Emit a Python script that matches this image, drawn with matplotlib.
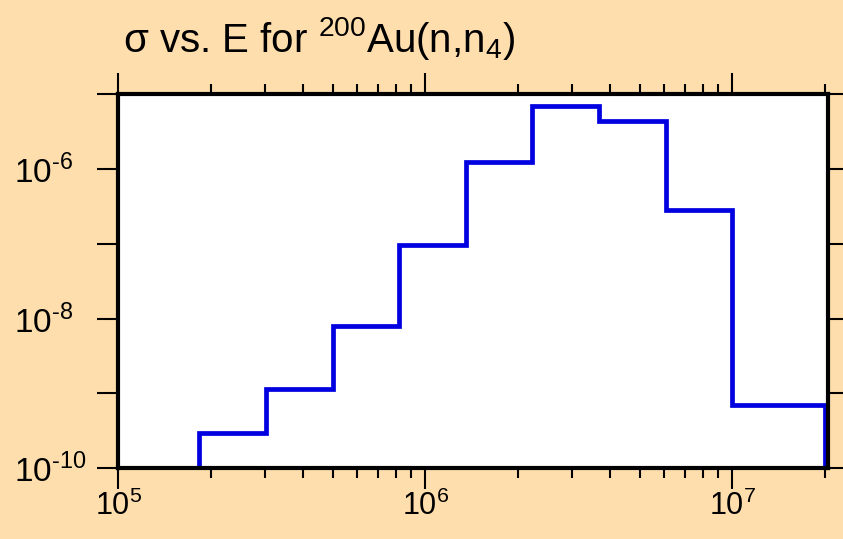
import matplotlib
matplotlib.use("Agg")
import matplotlib.pyplot as plt
from matplotlib import font_manager as fm
from matplotlib.ticker import FixedLocator, FuncFormatter, LogLocator, NullFormatter
import numpy as np

# ---- data ----
energy_edges = [1.83e5, 3.02e5, 4.98e5, 8.21e5, 1.353e6, 2.231e6, 3.679e6, 6.065e6, 1.0e7, 2.0e7]
sigma_values = [2.93e-10, 1.135e-9, 8.04e-9, 9.6e-8, 1.25e-6, 6.9e-6, 4.35e-6, 2.82e-7, 7.0e-10]
y_ticks = [1e-10, 1e-9, 1e-8, 1e-7, 1e-6, 1e-5]
y_labeled_exps = [-10, -8, -6]
x_ticks = [1e5, 1e6, 1e7]
title_text = "σ vs. E for $\\mathregular{^{200}}$Au(n,n$\\mathregular{_4}$)"

names = {f.name for f in fm.fontManager.ttflist}
narrow = 'Liberation Sans Narrow' if 'Liberation Sans Narrow' in names else None

plt.rcParams['font.family'] = ['Liberation Sans', 'DejaVu Sans']
plt.rcParams['mathtext.fontset'] = 'custom'
plt.rcParams['mathtext.rm'] = 'Liberation Sans'

BG = '#FFDEAD'
fig = plt.figure(figsize=(8.43, 5.39), dpi=100, facecolor=BG)
ax = fig.add_axes([118.5/843, 1-468.3/539, 709.7/843, 374.3/539])
ax.set_facecolor('white')

ax.stairs(sigma_values, energy_edges, baseline=1e-10, color='#0000E0', linewidth=3.4)

ax.set_xscale('log')
ax.set_yscale('log')
ax.set_xlim(1e5, 2.05e7)
ax.set_ylim(1e-10, 1e-5)

for s in ax.spines.values():
    s.set_linewidth(3.0)
    s.set_color('black')

ax.xaxis.set_major_locator(FixedLocator(x_ticks))
ax.xaxis.set_minor_locator(LogLocator(base=10, subs=np.arange(2, 10)))
ax.xaxis.set_minor_formatter(NullFormatter())
ax.xaxis.set_major_formatter(FuncFormatter(lambda v, p: r'$\mathregular{10^{%d}}$' % int(round(np.log10(v)))))

ax.yaxis.set_major_locator(FixedLocator(y_ticks))
ax.yaxis.set_minor_locator(FixedLocator([]))

def yfmt(v, p):
    e = int(round(np.log10(v)))
    if e in y_labeled_exps:
        if e < 0:
            return r'$\mathregular{10}^{\mathrm{\text{-}%d}}$' % abs(e)
        return r'$\mathregular{10}^{\mathrm{%d}}$' % e
    return ''
ax.yaxis.set_major_formatter(FuncFormatter(yfmt))

ax.tick_params(axis='both', which='major', direction='out', length=15, width=1.5,
               top=True, right=True, colors='black')
ax.tick_params(axis='x', which='minor', direction='out', length=7.5, width=1.5, top=True)
ax.tick_params(axis='x', which='major', pad=1, labelsize=22)
ax.tick_params(axis='y', which='major', pad=60.5, labelsize=24)
for lbl in ax.get_yticklabels():
    lbl.set_horizontalalignment('left')
    if narrow:
        lbl.set_fontfamily(narrow)

fig.text(123/843, 1-52/539, title_text, fontsize=29, ha='left', va='baseline', color='black')

fig.savefig('out.png', dpi=100, facecolor=BG)
